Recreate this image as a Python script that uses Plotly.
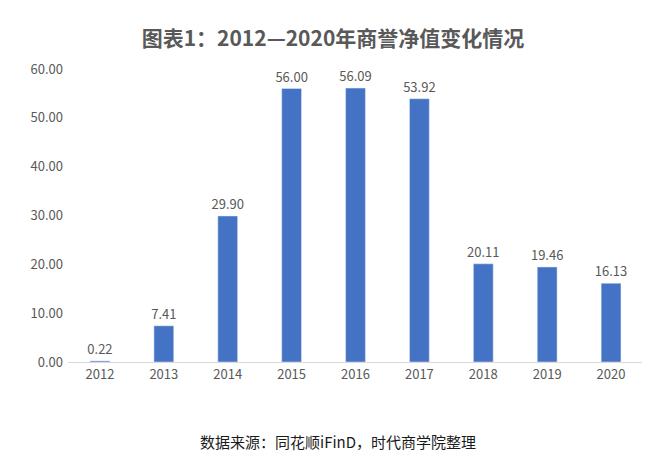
import plotly.graph_objects as go

years = ["2012", "2013", "2014", "2015", "2016", "2017", "2018", "2019", "2020"]
goodwill = [0.22, 7.41, 29.90, 56.00, 56.09, 53.92, 20.11, 19.46, 16.13]
y_ticks = [0, 10, 20, 30, 40, 50, 60]

fig = go.Figure(go.Bar(
    x=years, y=goodwill,
    marker_color="#4472C4",
    text=[f"{v:.2f}" for v in goodwill],
    textposition="outside",
    constraintext="none",
    textfont=dict(size=13, color="#595959"),
    cliponaxis=False,
))

fig.update_layout(
    width=650, height=465,
    margin=dict(l=60, r=15, t=61, b=111),
    plot_bgcolor="white", paper_bgcolor="white",
    font=dict(family="Noto Sans CJK SC", color="#595959", size=13),
    bargap=0.69,
    showlegend=False,
    title=dict(text="<b>图表1：2012—2020年商誉净值变化情况</b>",
               x=0.5, xanchor="center", y=0.935, yanchor="middle",
               font=dict(size=21, color="#595959")),
    annotations=[dict(text="数据来源：同花顺iFinD，时代商学院整理",
                      xref="paper", yref="paper", x=0.47, y=-0.27,
                      xanchor="center", yanchor="middle", showarrow=False,
                      font=dict(size=15, color="#1a1a1a"))],
)
fig.update_yaxes(range=[0, 60], tickvals=y_ticks,
                 ticktext=[f"{v:.2f}" for v in y_ticks],
                 showgrid=False, zeroline=False, ticks="", ticklabelstandoff=4)
fig.update_xaxes(showline=True, linecolor="#D9D9D9", ticks="")

fig.write_html("out.html")
